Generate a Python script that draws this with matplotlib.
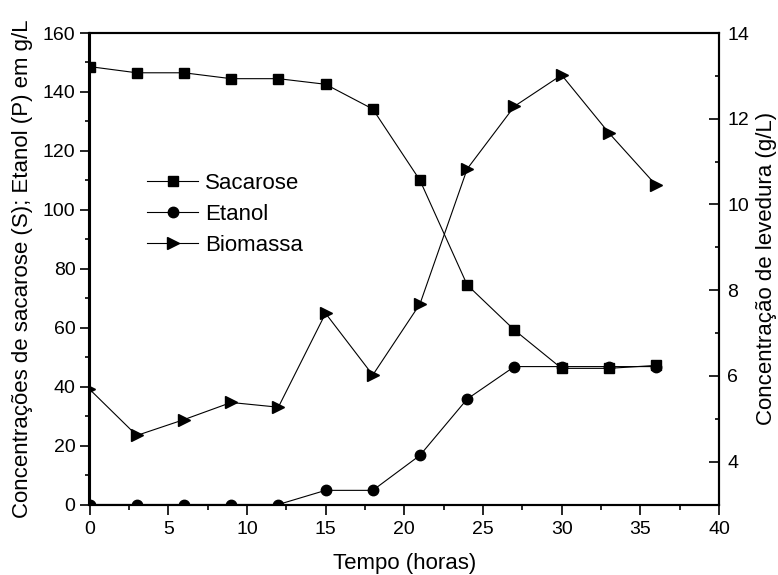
import matplotlib
matplotlib.use('Agg')
import matplotlib.pyplot as plt
from matplotlib.ticker import MultipleLocator

plt.rcParams['font.family'] = ['Liberation Sans', 'DejaVu Sans']

# time (hours)
tempo = [0, 3, 6, 9, 12, 15, 18, 21, 24, 27, 30, 33, 36]
# concentrations
sacarose = [148.6, 146.5, 146.5, 144.5, 144.5, 142.6, 134.2, 110.0, 74.5, 59.2, 46.2, 46.2, 47.2]
etanol = [0, 0, 0, 0, 0, 4.8, 4.8, 16.7, 35.8, 46.8, 46.8, 46.8, 46.8]
biomassa = [5.69, 4.61, 4.98, 5.38, 5.27, 7.46, 6.02, 7.68, 10.83, 12.29, 13.02, 11.67, 10.45]

fig = plt.figure(figsize=(7.78, 5.75), dpi=100)
ax = fig.add_axes([89.5 / 778, 1 - 504.5 / 575, 629.5 / 778, 471.5 / 575])
ax2 = ax.twinx()

lw = 0.8
ax.plot(tempo, sacarose, color='black', lw=lw, marker='s', ms=7, label='Sacarose')
ax.plot(tempo, etanol, color='black', lw=lw, marker='o', ms=7.5, label='Etanol')
ax2.plot(tempo, biomassa, color='black', lw=lw, marker='>', ms=9, label='Biomassa')

ax.set_xlim(0, 40)
ax.set_ylim(0, 160)
ax2.set_ylim(3, 14)

ax.xaxis.set_major_locator(MultipleLocator(5))
ax.xaxis.set_minor_locator(MultipleLocator(2.5))
ax.yaxis.set_major_locator(MultipleLocator(20))
ax.yaxis.set_minor_locator(MultipleLocator(10))
ax2.yaxis.set_major_locator(MultipleLocator(2))
ax2.yaxis.set_minor_locator(MultipleLocator(1))

for a in (ax, ax2):
    for s in a.spines.values():
        s.set_linewidth(1.5)

ax.tick_params(axis='both', which='major', direction='out', length=7, width=1.2, labelsize=14)
ax.tick_params(axis='both', which='minor', direction='out', length=3.5, width=1.2)
ax.tick_params(axis='x', which='major', pad=5)
ax.tick_params(axis='y', which='major', pad=3)
ax2.tick_params(axis='y', which='major', direction='in', length=7, width=1.2, labelsize=14, pad=6)
ax2.tick_params(axis='y', which='minor', direction='in', length=3, width=1.2)

ax.set_xlabel('Tempo (horas)', fontsize=16)
ax.set_ylabel('Concentrações de sacarose (S); Etanol (P) em g/L', fontsize=16)
ax2.set_ylabel('Concentração de levedura (g/L)', fontsize=16)
ax.xaxis.set_label_coords(0.5, -0.103)
ax.yaxis.set_label_coords(-0.09, 0.5)
ax2.yaxis.set_label_coords(1.058, 0.5)

handles = ax.get_lines() + ax2.get_lines()
ax2.legend(handles, [h.get_label() for h in handles], loc='upper left',
           bbox_to_anchor=(147 / 778, 1 - 173 / 575), bbox_transform=fig.transFigure,
           frameon=False, fontsize=16, borderpad=0, borderaxespad=0,
           labelspacing=0.45, handlelength=2.3, handletextpad=0.3)

fig.savefig('out.png', dpi=100)
